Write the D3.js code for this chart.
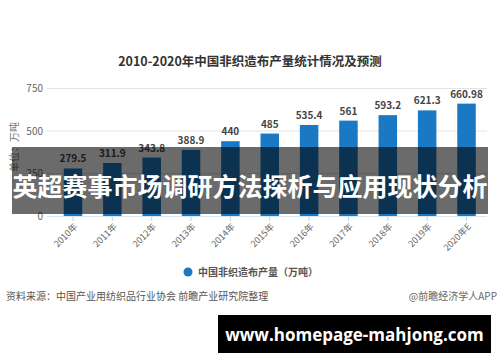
<!DOCTYPE html>
<html><head><meta charset="utf-8">
<script src="https://cdn.jsdelivr.net/npm/d3@7"></script>
<style>
html,body{margin:0;padding:0;background:#fff;}
svg{display:block;}
</style></head>
<body>
<script>
const categories = ["2010年","2011年","2012年","2013年","2014年","2015年","2016年","2017年","2018年","2019年","2020年E"];
const values = [279.5, 311.9, 343.8, 388.9, 440, 485, 535.4, 561, 593.2, 621.3, 660.98];
const valueLabels = ["279.5","311.9","343.8","388.9","440","485","535.4","561","593.2","621.3","660.98"];
const yTicks = [0, 250, 500, 750];
const title = "2010-2020年中国非织造布产量统计情况及预测";
const yLabel = "单位：万吨";
const legendLabel = "中国非织造布产量（万吨）";
const sourceText = "资料来源：中国产业用纺织品行业协会 前瞻产业研究院整理";
const creditText = "@前瞻经济学人APP";
const overlayTitle = "英超赛事市场调研方法探析与应用现状分析";
const siteText = "www.homepage-mahjong.com";

const W = 500, H = 362;
const font = "'Noto Sans CJK SC','Noto Sans',sans-serif";
const svg = d3.select("body").append("svg").attr("width", W).attr("height", H);

const x = d3.scaleBand().domain(categories).range([53.5, 486]).paddingInner(0.53).paddingOuter(0.26);
const y = d3.scaleLinear().domain([0, 750]).range([216, 88.5]);

svg.append("text").attr("x", 250).attr("y", 66).attr("text-anchor", "middle")
  .attr("font-family", font).attr("font-size", 12.5).attr("font-weight", "bold").attr("fill", "#333")
  .text(title);

// gridlines
svg.append("g").selectAll("line").data(yTicks.filter(d => d > 0)).join("line")
  .attr("x1", 47).attr("x2", 487).attr("y1", d => y(d)).attr("y2", d => y(d))
  .attr("stroke", "#e3e3e3").attr("stroke-width", 1);

// y axis labels
svg.append("g").selectAll("text").data(yTicks).join("text")
  .attr("x", 43).attr("y", d => y(d) + 3.5).attr("text-anchor", "end")
  .attr("font-family", font).attr("font-size", 10).attr("fill", "#666")
  .text(d => d);

svg.append("text").attr("transform", "translate(18,147) rotate(-90)").attr("text-anchor", "middle")
  .attr("font-family", font).attr("font-size", 10).attr("fill", "#777").text(yLabel);

// axis line
svg.append("line").attr("x1", 47).attr("x2", 487).attr("y1", y(0) + 0.5).attr("y2", y(0) + 0.5)
  .attr("stroke", "#d8e6f2").attr("stroke-width", 1);

// bars
svg.append("g").selectAll("rect").data(values).join("rect")
  .attr("x", (d, i) => x(categories[i])).attr("width", x.bandwidth())
  .attr("y", d => y(d)).attr("height", d => y(0) - y(d))
  .attr("fill", "#1b78c2");

// value labels
svg.append("g").selectAll("text").data(values).join("text")
  .attr("x", (d, i) => x(categories[i]) + x.bandwidth() / 2).attr("y", d => y(d) - 6)
  .attr("text-anchor", "middle").attr("font-family", font).attr("font-size", 10)
  .attr("font-weight", "bold").attr("fill", "#444")
  .text((d, i) => valueLabels[i]);

// ticks
svg.append("g").selectAll("line").data(categories).join("line")
  .attr("x1", d => x(d) + x.bandwidth() / 2).attr("x2", d => x(d) + x.bandwidth() / 2)
  .attr("y1", y(0) + 1).attr("y2", y(0) + 5).attr("stroke", "#b9d3ea");

// x labels
svg.append("g").selectAll("text").data(categories).join("text")
  .attr("transform", d => `translate(${x(d) + x.bandwidth() / 2 + 3},${y(0) + 9}) rotate(-45)`)
  .attr("text-anchor", "end").attr("font-family", font).attr("font-size", 9).attr("fill", "#666")
  .attr("dy", "0.35em")
  .text(d => d);

// legend
svg.append("circle").attr("cx", 188).attr("cy", 272).attr("r", 4.5).attr("fill", "#1b78c2");
svg.append("text").attr("x", 198).attr("y", 275.5).attr("font-family", font).attr("font-size", 10)
  .attr("font-weight", "bold").attr("fill", "#555").text(legendLabel);

// source
svg.append("text").attr("x", 6).attr("y", 300).attr("font-family", font).attr("font-size", 10)
  .attr("fill", "#555").text(sourceText);
svg.append("text").attr("x", 497).attr("y", 300).attr("text-anchor", "end").attr("font-family", font)
  .attr("font-size", 10).attr("fill", "#666").text(creditText);

// overlay band
svg.append("rect").attr("x", 12).attr("y", 147).attr("width", 476).attr("height", 67)
  .attr("fill", "rgba(0,0,0,0.58)");
svg.append("text").attr("x", 250).attr("y", 185).attr("text-anchor", "middle").attr("dominant-baseline", "central")
  .attr("font-family", font).attr("font-size", 25).attr("font-weight", "bold").attr("fill", "#fff")
  .text(overlayTitle);

// site box
svg.append("rect").attr("x", 218).attr("y", 315).attr("width", 273).attr("height", 38).attr("fill", "#000");
svg.append("text").attr("x", 354.5).attr("y", 334).attr("text-anchor", "middle").attr("dominant-baseline", "central")
  .attr("font-family", "'Open Sans','Noto Sans',sans-serif").attr("font-size", 17).attr("font-weight", "bold")
  .attr("fill", "#fff").text(siteText);
</script>
</body></html>
